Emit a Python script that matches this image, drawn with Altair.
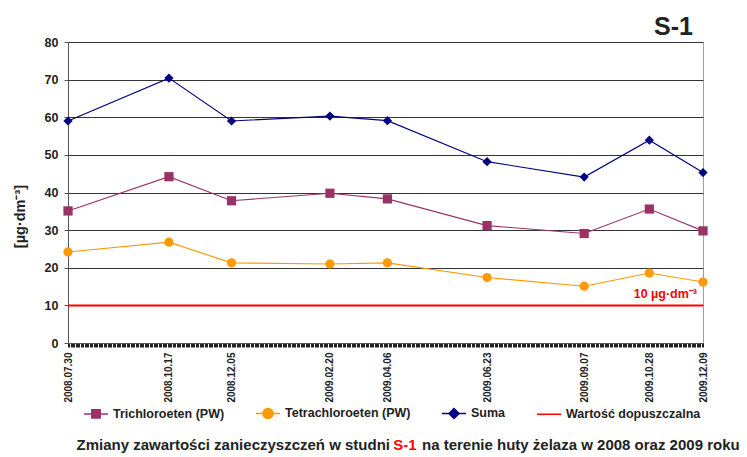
import altair as alt
import pandas as pd

# ---- data ----
dates = ["2008-07-30", "2008-10-17", "2008-12-05", "2009-02-20", "2009-04-06",
         "2009-06-23", "2009-09-07", "2009-10-28", "2009-12-09"]
tri = [35.1, 44.2, 37.8, 39.8, 38.3, 31.2, 29.1, 35.6, 29.8]
tetra = [24.2, 26.8, 21.3, 21.0, 21.3, 17.4, 15.1, 18.6, 16.2]
suma = [59.0, 70.4, 59.0, 60.3, 59.1, 48.2, 44.1, 53.9, 45.3]
limit_value = 10
series_names = ["Trichloroeten (PW)", "Tetrachloroeten (PW)", "Suma", "Wartość dopuszczalna"]
series_colors = ["#993366", "#FF9900", "#000080", "#FF0000"]
y_ticks = [0, 10, 20, 30, 40, 50, 60, 70, 80]

rows = []
for name, vals in zip(series_names[:3], [tri, tetra, suma]):
    for d, v in zip(dates, vals):
        rows.append({"date": d, "value": v, "series": name})
df = pd.DataFrame(rows)
limit_df = pd.DataFrame({"value": [limit_value], "series": [series_names[3]]})

ms = lambda s: int(pd.Timestamp(s, tz="UTC").timestamp() * 1000)
date_ms = [ms(d) for d in dates]
day_ms = [int(t.timestamp() * 1000) for t in pd.date_range(dates[0], dates[-1], freq="D", tz="UTC")]

W, H = 635, 301
FONT = "Liberation Sans"

xscale = alt.Scale(type="utc", domain=[date_ms[0], date_ms[-1]], nice=False)
yscale = alt.Scale(domain=[0, 80], nice=False)
cscale = alt.Scale(domain=series_names, range=series_colors)

yaxis = alt.Axis(values=y_ticks, title="[µg·dm⁻³]", titleFont=FONT, titleFontSize=14.5,
                 titleFontWeight="bold", titleColor="#222", titleX=-48, titleY=174,
                 titleAngle=270, titleAlign="center", titleBaseline="middle",
                 labelFont=FONT, labelFontSize=12.5, labelFontWeight="bold", labelColor="#222",
                 labelPadding=6, tickSize=4, tickColor="#555", domainColor="#555",
                 gridColor="#333", gridWidth=1, gridOpacity=1)
Y = alt.Y("value:Q", scale=yscale, axis=yaxis)

xaxis_labels = alt.Axis(values=date_ms, format="%Y.%m.%d", labelAngle=270, labelAlign="right",
                        labelBaseline="middle", labelFont=FONT, labelFontSize=10,
                        labelFontWeight="bold", labelColor="#222", labelPadding=9,
                        ticks=False, grid=False, domain=False, title=None, orient="bottom",
                        labelOverlap=False)
xaxis_minor = alt.Axis(values=day_ms, labels=False, ticks=True, tickSize=4, tickColor="#222",
                       tickWidth=1, grid=False, domain=True, domainColor="#555",
                       title=None, orient="bottom")

base = alt.Chart(df)

lines = base.mark_line(strokeWidth=1.1).encode(
    x=alt.X("date:T", scale=xscale, axis=xaxis_labels),
    y=Y,
    color=alt.Color("series:N", scale=cscale, legend=None),
)

points = base.mark_point(filled=True, size=85, opacity=1).encode(
    x=alt.X("date:T", scale=xscale, axis=xaxis_minor),
    y=Y,
    color=alt.Color("series:N", scale=cscale, legend=None),
    shape=alt.Shape("series:N", scale=alt.Scale(domain=series_names,
                                                range=["square", "circle", "diamond", "stroke"]),
                    legend=None),
)

rule = alt.Chart(limit_df).mark_rule(strokeWidth=2).encode(
    y=Y,
    color=alt.Color("series:N", scale=cscale, legend=None),
)

legend_paths = [
    "M-1,0H1M-0.35,-0.35H0.35V0.35H-0.35Z",
    "M-1,0H1M0.42,0A0.42,0.42,0,1,1,-0.42,0A0.42,0.42,0,1,1,0.42,0Z",
    "M-1,0H1M0,-0.42L0.42,0L0,0.42L-0.42,0Z",
    "M-1,0H1",
]
leg = alt.Legend(title=None, orient="none", legendX=15, legendY=358, direction="horizontal",
                 columns=4, columnPadding=28, symbolSize=576, symbolStrokeWidth=1.5,
                 labelFont=FONT, labelFontSize=12.5, labelFontWeight="bold", labelColor="#222",
                 labelOffset=4, symbolOpacity=1)
legend_layer = base.transform_filter("false").mark_point(filled=True, opacity=1).encode(
    x=alt.X("date:T", scale=xscale, axis=None),
    y=Y,
    color=alt.Color("series:N", scale=cscale, legend=leg),
    stroke=alt.Stroke("series:N", scale=cscale, legend=leg),
    shape=alt.Shape("series:N", scale=alt.Scale(domain=series_names, range=legend_paths), legend=leg),
)

annot = alt.Chart(pd.DataFrame({"t": ["10 µg·dm⁻³"]})).mark_text(
    align="right", baseline="alphabetic", font=FONT, fontSize=12.5, fontWeight="bold", color="#FF0000"
).encode(x=alt.value(629), y=alt.value(256), text="t:N")

title_s1 = alt.Chart(pd.DataFrame({"t": ["S-1"]})).mark_text(
    align="right", baseline="alphabetic", font=FONT, fontSize=25, fontWeight="bold", color="#222"
).encode(x=alt.value(625), y=alt.value(-7), text="t:N")

cap_style = dict(baseline="alphabetic", font=FONT, fontSize=15, fontWeight="bold")
cap1 = alt.Chart(pd.DataFrame({"t": ["Zmiany zawartości zanieczyszczeń w studni"]})).mark_text(
    align="right", color="#222", **cap_style).encode(x=alt.value(322), y=alt.value(408), text="t:N")
cap2 = alt.Chart(pd.DataFrame({"t": ["S-1"]})).mark_text(
    align="center", color="#FF0000", **cap_style).encode(x=alt.value(337), y=alt.value(408), text="t:N")
cap3 = alt.Chart(pd.DataFrame({"t": ["na terenie huty żelaza w 2008 oraz 2009 roku"]})).mark_text(
    align="left", color="#222", **cap_style).encode(x=alt.value(354), y=alt.value(408), text="t:N")

chart = alt.layer(
    rule, lines, points, legend_layer, annot, title_s1, cap1, cap2, cap3
).resolve_scale(
    color="independent", stroke="independent", shape="independent"
).resolve_axis(
    x="independent"
).properties(
    width=W, height=H,
    padding={"left": 60, "top": 34, "right": 36, "bottom": 112},
    autosize=alt.AutoSizeParams(type="none"),
    background="white",
).configure_view(
    stroke="#A0A0A0", strokeWidth=1
)

chart.save("out.html", embed_options={"renderer": "svg", "actions": False})
